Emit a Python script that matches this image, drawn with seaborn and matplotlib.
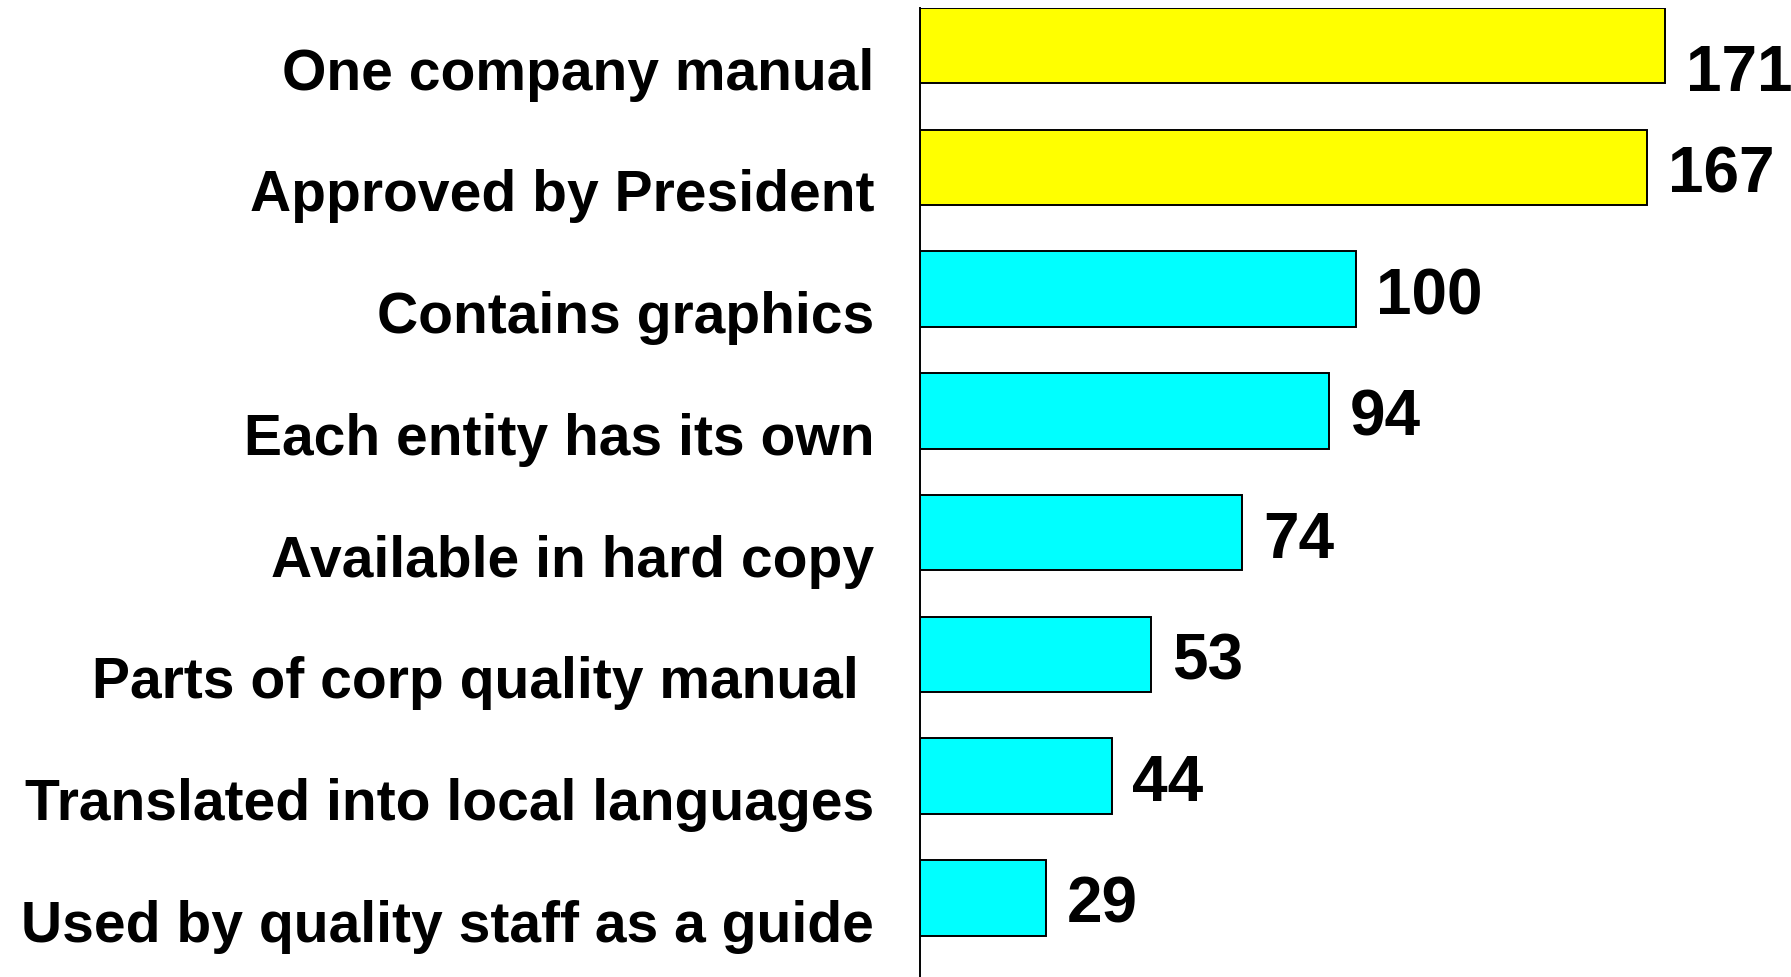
import pandas as pd
import matplotlib
matplotlib.use("Agg")
import matplotlib.pyplot as plt
import matplotlib.transforms as mtransforms
import seaborn as sns

# === data ===
labels = [
    "One company manual",
    "Approved by President",
    "Contains graphics",
    "Each entity has its own",
    "Available in hard copy",
    "Parts of corp quality manual ",
    "Translated into local languages",
    "Used by quality staff as a guide",
]
counts = [171, 167, 100, 94, 74, 53, 44, 29]
groups = ["top", "top", "rest", "rest", "rest", "rest", "rest", "rest"]

df = pd.DataFrame({"Label": labels, "Count": counts, "Group": groups})

# === plot ===
sns.set_style("white")
plt.rcParams["font.family"] = ["Liberation Sans", "DejaVu Sans"]
plt.rcParams["text.color"] = "black"
plt.rcParams["ytick.color"] = "black"

fig = plt.figure(figsize=(17.91, 9.78), dpi=100)
ax = fig.add_axes([920 / 1791, 0, 871 / 1791, 969 / 978])

sns.barplot(data=df, x="Count", y="Label", hue="Group",
            palette={"top": "#FFFF00", "rest": "#00FFFF"}, saturation=1,
            dodge=False, width=0.62, edgecolor="black", linewidth=1.4,
            legend=False, ax=ax)

ax.set_xlim(0, 200)
ax.set_ylim(7.65, -0.31)
ax.set_xlabel("")
ax.set_ylabel("")
ax.set_xticks([])
for s in ["top", "right", "bottom"]:
    ax.spines[s].set_visible(False)
ax.spines["left"].set_color("black")
ax.spines["left"].set_linewidth(1.4)
ax.tick_params(axis="y", length=0, pad=33, labelsize=41, labelcolor="black")

# value labels next to bars
for i, v in enumerate(counts):
    dy = -27 if i == 0 else -7
    ax.annotate(str(v), xy=(v, i), xytext=(15, dy * 0.72), textcoords="offset points",
                ha="left", va="center", fontsize=46, fontweight="bold", color="black")

# category labels sit a bit below the bar centres
shift = mtransforms.ScaledTranslation(0, -22 / 100, fig.dpi_scale_trans)
for t in ax.get_yticklabels():
    t.set_fontweight("bold")
    t.set_transform(t.get_transform() + shift)

fig.savefig("out.png", dpi=100)
